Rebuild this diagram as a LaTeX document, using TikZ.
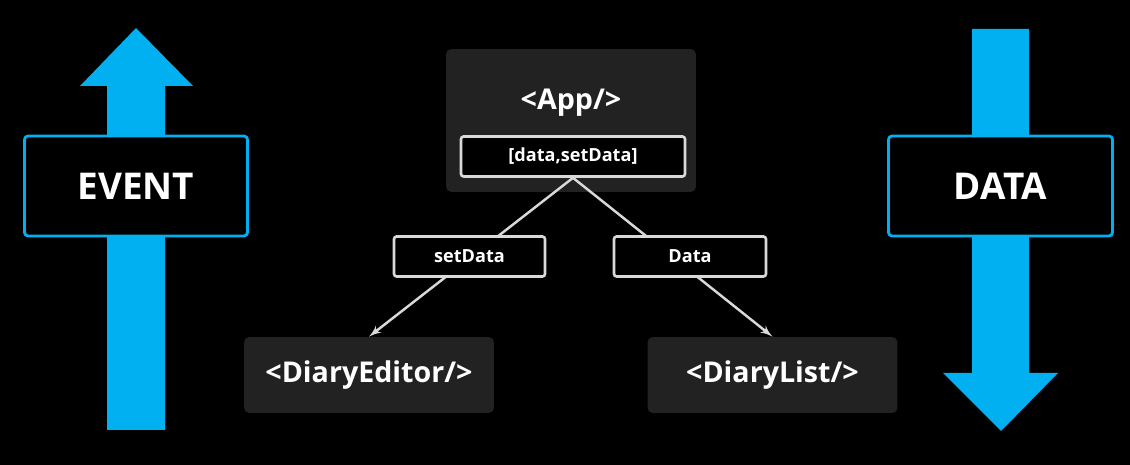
\documentclass[tikz,border=0pt]{standalone}
\usepackage{fontspec}
\setmainfont{Open Sans}
\usepackage{xcolor}
\usetikzlibrary{positioning,arrows}

\definecolor{flowblue}{HTML}{00B0F0}
\definecolor{compgray}{HTML}{222222}
\definecolor{edgegray}{HTML}{D9D9D9}

\begin{document}
\begin{tikzpicture}[
    x=0.02cm, y=-0.02cm,
    flowarrow/.style={fill=flowblue},
    tag/.style={rectangle, draw=flowblue, line width=1.6pt, fill=black, rounded corners=2pt, minimum width=4.46cm, minimum height=2.0cm, text=white, font=\fontsize{21}{25}\selectfont\bfseries},
    comp/.style={rectangle, fill=compgray, rounded corners=3pt, minimum width=5cm, minimum height=1.52cm, text=white, font=\fontsize{16.3}{19}\selectfont\bfseries},
    state/.style={rectangle, draw=edgegray, line width=1.5pt, fill=black, rounded corners=1.5pt, minimum height=0.8cm, text=white, font=\fontsize{10.3}{12}\selectfont\bfseries},
    line/.style={draw=edgegray, line width=1.4pt, -latex'}
]

% Background and frame
\fill[black] (0,0) rectangle (1130,465);
\useasboundingbox (0,0) rectangle (1130,465);

% Event goes up
\fill[flowarrow] (107,430) -- (107,86) -- (80,86) -- (136,28) -- (193,86) -- (165,86) -- (165,430) -- cycle;
\node[tag] (event) at (136,186) {EVENT};

% Data goes down
\fill[flowarrow] (972,29) -- (1029,29) -- (1029,373) -- (1058,373) -- (1001,431) -- (943,373) -- (972,373) -- cycle;
\node[tag, minimum width=4.48cm] (data) at (1000.5,186) {DATA};

% Parent component
\node[comp, minimum height=2.86cm] (app) at (571,120.5) {};
\node[comp, fill=none, minimum height=0cm, minimum width=0cm] (apptitle) at (571,103) {<App/>};
\node[state, minimum width=4.48cm] (state) at (573,156.5) {[data,setData]};

% Child components
\node[comp] (editor) at (369,375) {<DiaryEditor/>};
\node[comp] (list) at (772.5,375) {<DiaryList/>};

% Props
\draw[line] (state.south) -- (editor.north);
\draw[line] (state.south) -- (list.north);
\node[state, minimum width=3.02cm] (setter) at (469.5,256.5) {setData};
\node[state, minimum width=3.04cm] (getter) at (690,256.5) {Data};

\end{tikzpicture}
\end{document}
